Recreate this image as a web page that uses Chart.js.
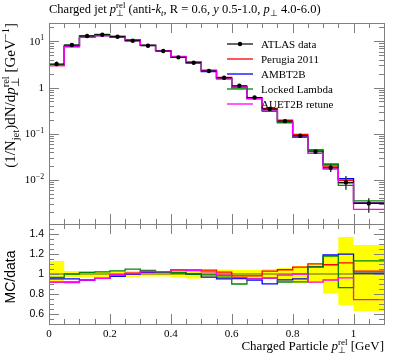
<!DOCTYPE html>
<html><head><meta charset="utf-8">
<script src="https://cdn.jsdelivr.net/npm/chart.js@4"></script>
<style>
html,body{margin:0;padding:0;background:#fff;}
#wrap{position:relative;width:397px;height:358px;overflow:hidden;}
canvas{position:absolute;left:0;top:0;}
</style></head><body>
<div id="wrap"><canvas id="main" width="397" height="358"></canvas><canvas id="ratio" width="397" height="358"></canvas></div>
<script>
// ---------------- data ----------------
const binEdges = [0,0.05,0.1,0.15,0.2,0.25,0.3,0.35,0.4,0.45,0.5,0.55,0.6,0.65,0.7,0.75,0.8,0.85,0.9,0.95,1.0,1.1];
const atlasData = [3.23,8.3,13.0,13.9,12.6,10.3,8.0,6.17,4.5,3.44,2.28,1.63,1.09,0.61,0.343,0.188,0.0905,0.0408,0.0184,0.00887,0.00312];
// relative uncertainty band of the data (as ratio to data)
const bandLow  = [0.93,0.97,0.97,0.97,0.97,0.97,0.975,0.975,0.965,0.955,0.96,0.95,0.955,0.955,0.95,0.93,0.91,0.91,0.805,0.69,0.63];
const bandHigh = [1.13,1.03,1.03,1.03,1.03,1.03,1.025,1.025,1.03,1.035,1.04,1.045,1.04,1.04,1.05,1.06,1.08,1.10,1.19,1.37,1.29];
const perugia2011  = [2.97,7.64,12.2,13.3,12.5,10.4,8.16,6.29,4.68,3.58,2.37,1.66,1.07,0.598,0.353,0.196,0.0968,0.0449,0.0201,0.00985,0.00321];
const ambt2b       = [3.07,7.89,12.2,13.3,12.3,10.3,8.16,6.29,4.55,3.44,2.21,1.55,1.04,0.573,0.309,0.177,0.0860,0.0437,0.0219,0.01064,0.00315];
const lockedLambda = [3.12,8.3,13.2,14.2,13.0,10.8,8.28,6.29,4.57,3.44,2.26,1.58,0.981,0.580,0.329,0.173,0.0833,0.0437,0.0217,0.00767,0.00353];
const auet2b       = [2.97,7.59,12.2,13.3,12.5,10.35,8.2,6.32,4.70,3.56,2.33,1.61,1.05,0.580,0.329,0.186,0.0905,0.0375,0.0173,0.00852,0.00232];
const xTickLabels = ['0','0.2','0.4','0.6','0.8','1'];
const ratioTickLabels = ['0.6','0.8','1','1.2','1.4'];
const legendLabels = ['ATLAS data','Perugia 2011','AMBT2B','Locked Lambda','AUET2B retune'];
const mcColors = ['#ff0000','#0000ff','#008800','#ff00ff'];

// ---------------- helpers ----------------
const SERIF = '"Liberation Serif","Times New Roman",serif';
const SANS = '"Liberation Sans",Arial,sans-serif';
function fontStr(size, italic){ return (italic?'italic ':'') + size + 'px ' + SERIF; }
function segWidth(ctx, s, size){
  if (s.sup !== undefined || s.sub !== undefined){
    const ss = size*0.7; let w1=0,w2=0;
    if (s.sup){ ctx.font=fontStr(ss,s.supI); w1=ctx.measureText(s.sup).width; }
    if (s.sub){ ctx.font=fontStr(ss,s.subI); w2=ctx.measureText(s.sub).width; }
    return Math.max(w1,w2);
  }
  ctx.font=fontStr(size,s.i); return ctx.measureText(s.t).width;
}
function drawRich(ctx, segs, x, y, size, align){
  let total=0; for(const s of segs) total+=segWidth(ctx,s,size);
  let cx = align==='right' ? x-total : (align==='center' ? x-total/2 : x);
  ctx.textAlign='left'; ctx.textBaseline='alphabetic'; ctx.fillStyle='#000';
  for (const s of segs){
    const w = segWidth(ctx,s,size);
    if (s.sup !== undefined || s.sub !== undefined){
      const ss=size*0.7;
      if (s.sup){ ctx.font=fontStr(ss,s.supI); ctx.fillText(s.sup,cx,y-size*0.42); }
      if (s.sub){ ctx.font=fontStr(ss,s.subI); ctx.fillText(s.sub,cx,y+size*0.25); }
    } else { ctx.font=fontStr(size,s.i); ctx.fillText(s.t,cx,y); }
    cx+=w;
  }
  return total;
}
function stepPoints(vals){
  const pts=[];
  vals.forEach((v,i)=>{ pts.push({x:binEdges[i],y:v}); pts.push({x:binEdges[i+1],y:v}); });
  return pts;
}
function centers(){ return atlasData.map((v,i)=>(binEdges[i]+binEdges[i+1])/2); }
const FRAME='#808080';
function line(ctx,x1,y1,x2,y2){ ctx.beginPath(); ctx.moveTo(x1,y1); ctx.lineTo(x2,y2); ctx.stroke(); }
function drawXTicks(ctx, xs, area){
  ctx.strokeStyle=FRAME; ctx.lineWidth=1;
  for (let k=0;k<=22;k++){
    const v=k*0.05; if (v>1.1001) break;
    const px=Math.round(xs.getPixelForValue(v))+0.5;
    const len = (k%4===0)?10:5;
    line(ctx,px,area.top,px,area.top+len);
    line(ctx,px,area.bottom,px,area.bottom-len);
  }
}
function drawFrame(ctx, area){
  ctx.strokeStyle=FRAME; ctx.lineWidth=1;
  ctx.strokeRect(Math.round(area.left)+0.5, Math.round(area.top)+0.5, Math.round(area.right-area.left), Math.round(area.bottom-area.top));
}

// ---------------- main panel ----------------
const mcSets = [perugia2011, ambt2b, lockedLambda, auet2b];
const mainDatasets = [{
  label: legendLabels[0],
  data: centers().map((c,i)=>({x:c,y:atlasData[i]})),
  showLine:false, pointRadius:2.2, pointBackgroundColor:'#000', pointBorderColor:'#000', pointBorderWidth:0,
  order:0
}];
mcSets.forEach((arr,j)=>{
  mainDatasets.push({label:legendLabels[j+1], data:stepPoints(arr), borderColor:mcColors[j], borderWidth:1.3,
    pointRadius:0, tension:0, fill:false, order: 4-j});
});

const mainPlugin = {
  id:'mainDeco',
  beforeDatasetDraw(chart,args){
    if (args.index!==0) return;
    const ctx=chart.ctx, xs=chart.scales.x, ys=chart.scales.y;
    ctx.save();
    ctx.strokeStyle='#000'; ctx.lineWidth=1;
    atlasData.forEach((v,i)=>{
      const x1=xs.getPixelForValue(binEdges[i]), x2=xs.getPixelForValue(binEdges[i+1]);
      const py=ys.getPixelForValue(v);
      line(ctx,x1,py,x2,py);
      const xc=(x1+x2)/2;
      ctx.strokeStyle='#333'; ctx.lineWidth=1.4;
      line(ctx,xc,ys.getPixelForValue(v*bandLow[i]),xc,ys.getPixelForValue(v*bandHigh[i]));
      ctx.strokeStyle='#000'; ctx.lineWidth=1;
    });
    ctx.restore();
  },
  afterDraw(chart){
    const ctx=chart.ctx, area=chart.chartArea, xs=chart.scales.x, ys=chart.scales.y;
    ctx.save();
    drawFrame(ctx,area);
    drawXTicks(ctx,xs,area);
    // log y ticks
    ctx.strokeStyle=FRAME; ctx.lineWidth=1;
    for (let e=-3;e<=1;e++){
      for (let m=1;m<=9;m++){
        const v=m*Math.pow(10,e);
        if (v<ys.min||v>ys.max) continue;
        const py=Math.round(ys.getPixelForValue(v))+0.5;
        const len=(m===1)?10:5;
        line(ctx,area.left,py,area.left+len,py);
        line(ctx,area.right,py,area.right-len,py);
      }
    }
    // y tick labels
    const decLabels=[[1,[{t:'10'},{sup:'1'}]],[0,[{t:'1'}]],[-1,[{t:'10'},{sup:'−1'}]],[-2,[{t:'10'},{sup:'−2'}]]];
    decLabels.forEach(([e,segs])=>{
      const py=ys.getPixelForValue(Math.pow(10,e));
      drawRich(ctx,segs,44,py+3.5,11,'right');
    });
    // title
    drawRich(ctx,[{t:'Charged jet '},{t:'p',i:true},{sup:'rel',sub:'⊥'},{t:' (anti-'},{t:'k',i:true},{sub:'t',subI:true},
      {t:', R = 0.6, '},{t:'y',i:true},{t:' 0.5-1.0, '},{t:'p',i:true},{sub:'⊥'},{t:' 4.0-6.0)'}],49,13,12.5,'left');
    // y label
    ctx.save(); ctx.translate(15,23); ctx.rotate(-Math.PI/2);
    drawRich(ctx,[{t:'(1/N'},{sub:'jet'},{t:')dN/d'},{t:'p',i:true},{sup:'rel',sub:'⊥'},{t:' [GeV'},{sup:'−1'},{t:']'}],0,0,15,'right');
    ctx.restore();
    // legend
    const rows=[44,59,74,89,104];
    rows.forEach((ry,k)=>{
      ctx.lineWidth = k===0?1.2:1.3;
      ctx.strokeStyle = k===0?'#000':mcColors[k-1];
      line(ctx,227,ry,253,ry);
      if (k===0){ ctx.fillStyle='#000'; ctx.beginPath(); ctx.arc(240,ry,2.2,0,Math.PI*2); ctx.fill(); }
      drawRich(ctx,[{t:legendLabels[k]}],261,ry+4,11,'left');
    });
    ctx.restore();
  }
};

new Chart(document.getElementById('main'),{
  type:'line',
  data:{datasets:mainDatasets},
  options:{
    responsive:false, animation:false, devicePixelRatio:1,
    layout:{padding:{left:49,right:13,top:23,bottom:134}},
    plugins:{legend:{display:false},title:{display:false},tooltip:{enabled:false}},
    scales:{
      x:{type:'linear',min:0,max:1.1,bounds:'data',display:false},
      y:{type:'logarithmic',min:0.001117,max:24.9,bounds:'data',display:false}
    }
  },
  plugins:[mainPlugin]
});

// ---------------- ratio panel ----------------
const ratioDatasets = [
  {label:'bandLow', data:stepPoints(bandLow), borderWidth:0, pointRadius:0, fill:false, order:10},
  {label:'bandHigh', data:stepPoints(bandHigh), borderWidth:0, pointRadius:0, fill:0, backgroundColor:'#ffff00', order:10},
  {label:'data', data:stepPoints(atlasData.map(()=>1)), borderColor:'#333', borderWidth:0.8, pointRadius:0, fill:false, order:9}
];
mcSets.forEach((arr,j)=>{
  ratioDatasets.push({label:legendLabels[j+1], data:stepPoints(arr.map((v,i)=>v/atlasData[i])), borderColor:mcColors[j],
    borderWidth:1.3, pointRadius:0, tension:0, fill:false, order:4-j});
});
const ratioPlugin = {
  id:'ratioDeco',
  afterDraw(chart){
    const ctx=chart.ctx, area=chart.chartArea, xs=chart.scales.x, ys=chart.scales.y;
    ctx.save();
    drawFrame(ctx,area);
    drawXTicks(ctx,xs,area);
    ctx.strokeStyle=FRAME; ctx.lineWidth=1;
    for (let k=10;k<=30;k++){
      const v=k*0.05;
      const py=Math.round(ys.getPixelForValue(v))+0.5;
      const len=(k%4===0)?10:5;
      line(ctx,area.left,py,area.left+len,py);
      line(ctx,area.right,py,area.right-len,py);
    }
    ctx.fillStyle='#000'; ctx.font='10.5px '+SANS; ctx.textAlign='right'; ctx.textBaseline='middle';
    ratioTickLabels.forEach(l=>{ ctx.fillText(l,44,ys.getPixelForValue(parseFloat(l))+0.5); });
    ctx.font='11px '+SERIF; ctx.textAlign='center';
    xTickLabels.forEach(l=>{ ctx.fillText(l,xs.getPixelForValue(parseFloat(l)),334); });
    drawRich(ctx,[{t:'Charged Particle '},{t:'p',i:true},{sup:'rel',sub:'⊥'},{t:' [GeV]'}],384,350,13,'right');
    ctx.save(); ctx.translate(15,277); ctx.rotate(-Math.PI/2);
    ctx.fillStyle='#000'; ctx.font='14px '+SANS; ctx.textAlign='center'; ctx.textBaseline='alphabetic';
    ctx.fillText('MC/data',0,0);
    ctx.restore();
    ctx.restore();
  }
};
new Chart(document.getElementById('ratio'),{
  type:'line',
  data:{datasets:ratioDatasets},
  options:{
    responsive:false, animation:false, devicePixelRatio:1,
    layout:{padding:{left:49,right:13,top:224,bottom:34}},
    plugins:{legend:{display:false},title:{display:false},tooltip:{enabled:false}},
    scales:{
      x:{type:'linear',min:0,max:1.1,bounds:'data',display:false},
      y:{type:'linear',min:0.5,max:1.5,bounds:'data',display:false}
    }
  },
  plugins:[ratioPlugin]
});
</script>
</body></html>
